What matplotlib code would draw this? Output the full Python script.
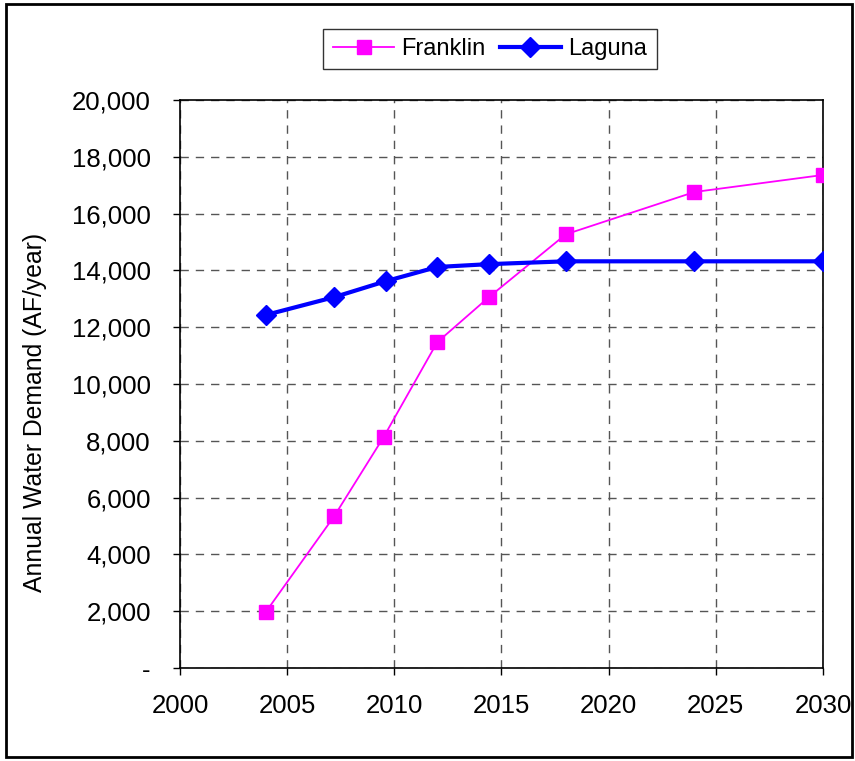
import matplotlib
matplotlib.use("Agg")
import matplotlib.pyplot as plt
from matplotlib.ticker import FuncFormatter
from matplotlib.patches import Rectangle

plt.rcParams['font.family'] = ['Liberation Sans', 'DejaVu Sans']

years_franklin = [2004, 2007.2, 2009.5, 2012, 2014.4, 2018, 2024, 2030]
franklin = [1970, 5350, 8130, 11470, 13050, 15270, 16760, 17360]
years_laguna = [2004, 2007.2, 2009.6, 2012, 2014.4, 2018, 2024, 2030]
laguna = [12430, 13060, 13620, 14120, 14220, 14320, 14320, 14320]

x_ticks = [2000, 2005, 2010, 2015, 2020, 2025, 2030]
y_ticks = list(range(0, 20001, 2000))

fig = plt.figure(figsize=(8.55, 7.61), dpi=100)
ax = fig.add_axes([180/855, 93/761, 643/855, 568/761])

ax.plot(years_franklin, franklin, color='#FF00FF', lw=1.3, marker='s', ms=10.5,
        label='Franklin', zorder=3)
ax.plot(years_laguna, laguna, color='#0000FF', lw=3, marker='D', ms=10,
        label='Laguna', zorder=4)

ax.set_xlim(2000, 2030)
ax.set_ylim(0, 20000)
ax.set_xticks(x_ticks)
ax.set_yticks(y_ticks)
ax.yaxis.set_major_formatter(FuncFormatter(lambda v, p: '-' if v == 0 else f'{int(v):,}'))
ax.tick_params(direction='out', length=5, width=1, labelsize=18.5, color='black')
ax.tick_params(axis='y', pad=16)
ax.tick_params(axis='x', pad=14)
ax.grid(True, color='#555555', linestyle=(0, (6, 5)), lw=1)
for s in ax.spines.values():
    s.set_color('black')
    s.set_linewidth(1.2)
ax.set_ylabel('Annual Water Demand (AF/year)', fontsize=17.8)
ax.yaxis.set_label_coords(-0.207, 0.45)

leg = fig.legend(loc='center', bbox_to_anchor=(490/855, 1 - 49/761), ncol=2,
                 fontsize=17, frameon=True, fancybox=False, edgecolor='black',
                 handlelength=2.6, columnspacing=0.6, handletextpad=0.3,
                 borderpad=0.4)
leg.get_frame().set_linewidth(1.0)

fig.patches.append(Rectangle((6/855, 4/761), 846/855, 753/761, transform=fig.transFigure,
                             fill=False, edgecolor='black', lw=2))

fig.savefig('out.png', dpi=100)
